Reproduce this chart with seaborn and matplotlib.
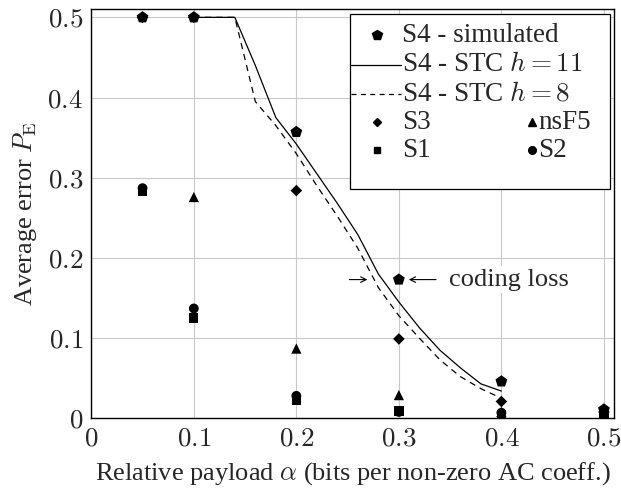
import matplotlib
matplotlib.use('Agg')
import matplotlib.pyplot as plt
import pandas as pd
import seaborn as sns

# values
payload = [0.05, 0.1, 0.2, 0.3, 0.4, 0.5]
s4_sim = [0.5, 0.5, 0.357, 0.173, 0.046, 0.011]
s3 = [0.5, 0.5, 0.284, 0.099, 0.021, 0.008]
s1 = [0.283, 0.125, 0.023, 0.009, 0.005, 0.003]
s2 = [0.287, 0.137, 0.028, 0.008, 0.007, 0.005]
payload_nsf5 = [0.1, 0.2, 0.3, 0.4, 0.5]
nsf5 = [0.276, 0.087, 0.029, 0.008, 0.004]

stc_alpha = [0.10, 0.12, 0.14, 0.16, 0.18, 0.20, 0.22, 0.24, 0.26, 0.28, 0.30, 0.32, 0.34, 0.36, 0.38, 0.40]
stc_h11 = [0.5, 0.5, 0.5, 0.44, 0.375, 0.342, 0.305, 0.268, 0.229, 0.180, 0.145, 0.113, 0.085, 0.063, 0.043, 0.034]
stc_h8 = [0.5, 0.5, 0.5, 0.395, 0.365, 0.330, 0.290, 0.252, 0.212, 0.163, 0.128, 0.100, 0.073, 0.052, 0.037, 0.025]

ticks = [0, 0.1, 0.2, 0.3, 0.4, 0.5]

sns.set_style('whitegrid')
plt.rcParams['font.family'] = ['Liberation Serif', 'DejaVu Serif']
plt.rcParams['mathtext.fontset'] = 'cm'

fig = plt.figure(figsize=(6.21, 4.91), dpi=100)
ax = fig.add_axes([0.147, 0.148, 0.842, 0.833])

lines = pd.DataFrame({'alpha': stc_alpha, 'h11': stc_h11, 'h8': stc_h8})
sns.lineplot(data=lines, x='alpha', y='h11', color='black', lw=0.9, ax=ax)
sns.lineplot(data=lines, x='alpha', y='h8', color='black', lw=0.9, ax=ax)
ax.lines[-1].set_linestyle((0, (5, 4)))

pts = pd.DataFrame({'alpha': payload, 's4': s4_sim, 's3': s3, 's1': s1, 's2': s2})
kw = dict(color='black', edgecolor='none', ax=ax, zorder=3, legend=False)
sns.scatterplot(data=pts, x='alpha', y='s1', marker='s', s=45, **kw)
sns.scatterplot(data=pts, x='alpha', y='s2', marker='o', s=50, **kw)
sns.scatterplot(x=payload_nsf5, y=nsf5, marker='^', s=55, **kw)
sns.scatterplot(data=pts, x='alpha', y='s3', marker='D', s=35, **kw)
sns.scatterplot(data=pts, x='alpha', y='s4', marker='p', s=80, **kw)

ax.set_xlim(0, 0.51)
ax.set_ylim(0, 0.51)
ax.set_xticks(ticks)
ax.set_yticks(ticks)
ax.set_xticklabels([f'${t:g}$' for t in ticks], fontsize=19.5)
ax.set_yticklabels([f'${t:g}$' for t in ticks], fontsize=19.5)
ax.tick_params(direction='in', length=4, color='#555555', pad=6)
ax.grid(True, color='#c8c8c8', lw=0.8)
for sp in ax.spines.values():
    sp.set_color('black')
    sp.set_linewidth(1.0)

ax.set_xlabel(r'Relative payload $\alpha$ (bits per non-zero AC coeff.)', fontsize=19, labelpad=6)
ax.set_ylabel(r'Average error $P_{\mathrm{E}}$', fontsize=19, labelpad=6)

# coding loss annotation
ax.annotate('', xy=(0.272, 0.173), xytext=(0.249, 0.173),
            arrowprops=dict(arrowstyle='->', color='black', lw=0.8))
ax.annotate('', xy=(0.307, 0.173), xytext=(0.339, 0.173),
            arrowprops=dict(arrowstyle='->', color='black', lw=0.8))
ax.text(0.349, 0.173, 'coding loss', fontsize=19, va='center', ha='left',
        bbox=dict(facecolor='white', edgecolor='none', pad=2), zorder=4)

# legend drawn by hand (mixed one/two column layout)
ax.add_patch(plt.Rectangle((0.495, 0.561), 0.497, 0.427, transform=ax.transAxes,
                           facecolor='white', edgecolor='black', lw=0.9, zorder=5))
tx = 0.595
rows = [0.937, 0.864, 0.793, 0.724, 0.656]
fs = 19.5
ax.plot([0.546], [rows[0]], marker='p', ms=7, color='black', ls='none', transform=ax.transAxes, zorder=6, clip_on=False)
ax.plot([0.497, 0.592], [rows[1]] * 2, color='black', lw=0.9, transform=ax.transAxes, zorder=6)
ax.plot([0.497, 0.592], [rows[2]] * 2, color='black', lw=0.9, ls=(0, (4, 3.5)), transform=ax.transAxes, zorder=6)
ax.plot([0.546], [rows[3]], marker='D', ms=4.5, color='black', ls='none', transform=ax.transAxes, zorder=6)
ax.plot([0.546], [rows[4]], marker='s', ms=5, color='black', ls='none', transform=ax.transAxes, zorder=6)
ax.plot([0.843], [rows[3]], marker='^', ms=5.5, color='black', ls='none', transform=ax.transAxes, zorder=6)
ax.plot([0.843], [rows[4]], marker='o', ms=5.5, color='black', ls='none', transform=ax.transAxes, zorder=6)
labels = [r'S4 - simulated', r'S4 - STC $h=11$', r'S4 - STC $h=8$', 'S3', 'S1']
for y, lab in zip(rows, labels):
    ax.text(tx, y, lab, fontsize=fs, va='center', ha='left', transform=ax.transAxes, zorder=6)
ax.text(0.855, rows[3], 'nsF5', fontsize=fs, va='center', ha='left', transform=ax.transAxes, zorder=6)
ax.text(0.855, rows[4], 'S2', fontsize=fs, va='center', ha='left', transform=ax.transAxes, zorder=6)

fig.savefig('out.png', dpi=100)
